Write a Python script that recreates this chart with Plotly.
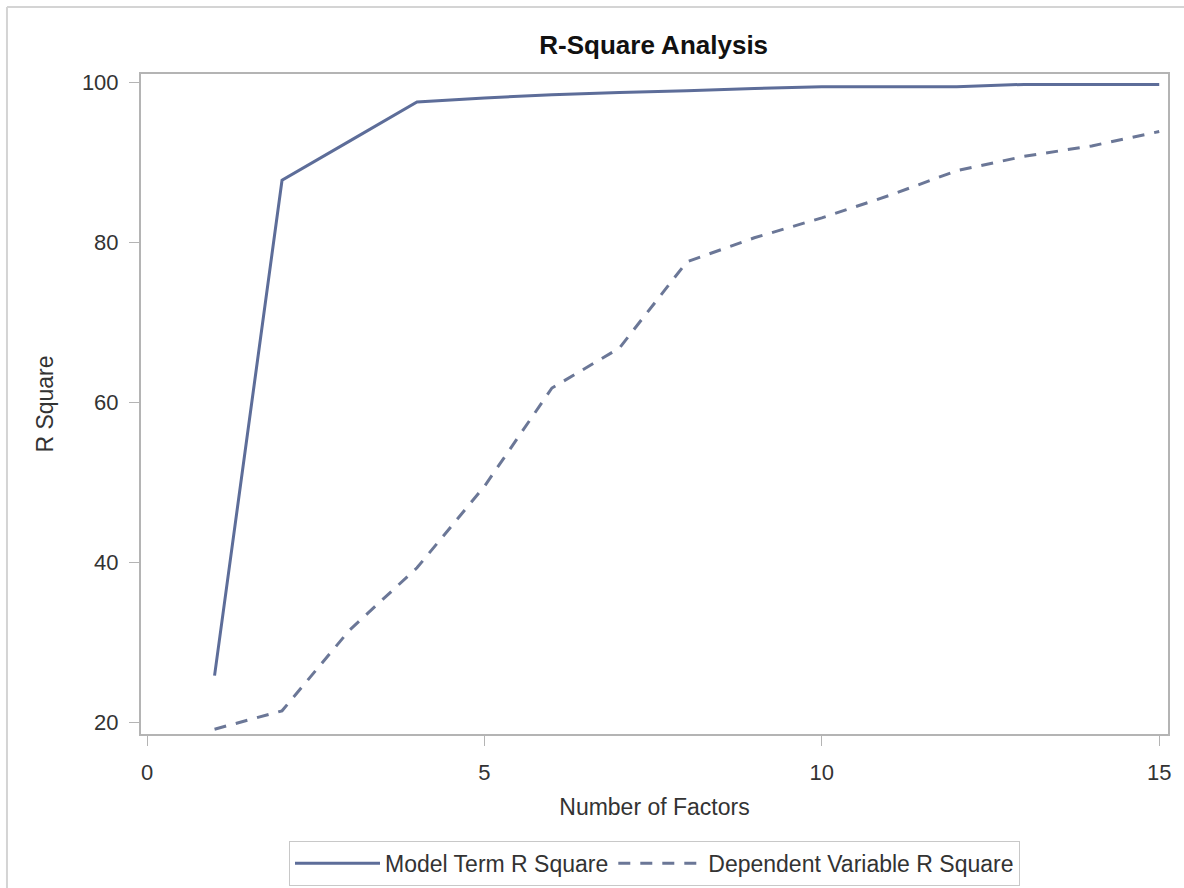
import plotly.graph_objects as go

# Number of factors extracted
factors = list(range(1, 16))

# Percent of variation explained in the model terms
model_term_r2 = [25.8, 87.8, 92.7, 97.6, 98.1, 98.5, 98.8, 99.0, 99.3, 99.5, 99.5, 99.5, 99.8, 99.8, 99.8]

# Percent of variation explained in the dependent variable
dependent_r2 = [19.1, 21.4, 31.5, 39.3, 49.5, 61.8, 66.8, 77.6, 80.6, 83.1, 85.9, 89.0, 90.8, 92.1, 93.9]

line_color = "#5d6d99"
axis_color = "#b4b4b4"
text_color = "#333333"
font_family = "Liberation Sans, Arial, sans-serif"

fig = go.Figure()
fig.add_trace(go.Scatter(
    x=factors, y=model_term_r2, mode="lines",
    name="Model Term R Square",
    line=dict(color=line_color, width=3),
))
fig.add_trace(go.Scatter(
    x=factors, y=dependent_r2, mode="lines",
    name="Dependent Variable R Square",
    line=dict(color="#6b7797", width=3, dash="12px,10px"),
))

fig.update_layout(
    width=1184, height=888,
    margin=dict(l=141, r=16, t=74, b=154, autoexpand=False),
    paper_bgcolor="white", plot_bgcolor="white",
    font=dict(family=font_family, size=21, color=text_color),
    title=dict(text="<b>R-Square Analysis</b>", x=0.5521, xanchor="center",
               y=0.949, yanchor="middle",
               font=dict(size=26, color="#111111", family=font_family)),
    showlegend=True,
    legend=dict(orientation="h", x=0.5, xanchor="center", y=-0.162, yanchor="top",
                bordercolor="#c8c8c8", borderwidth=1, bgcolor="white",
                font=dict(size=23, color=text_color), itemwidth=85,
                tracegroupgap=0),
    xaxis=dict(
        range=[-0.09, 15.13], tickvals=[0, 5, 10, 15], ticktext=["0", "5", "10", "15"],
        showgrid=False, zeroline=False, showline=True, linecolor=axis_color, linewidth=2,
        mirror=True, ticks="outside", ticklen=10, tickcolor=axis_color, tickwidth=1,
        tickfont=dict(size=22, color=text_color), ticklabelstandoff=8, automargin=False,
        title=dict(text="Number of Factors", font=dict(size=23, color=text_color), standoff=14),
    ),
    yaxis=dict(
        range=[18.5, 101.1], tickvals=[20, 40, 60, 80, 100],
        showgrid=False, zeroline=False, showline=True, linecolor=axis_color, linewidth=2,
        mirror=True, ticks="outside", ticklen=10, tickcolor=axis_color, tickwidth=1,
        tickfont=dict(size=22, color=text_color), ticklabelstandoff=6, automargin=False,
        title=dict(text="R Square", font=dict(size=23, color=text_color), standoff=22),
    ),
    shapes=[
        dict(type="line", xref="paper", yref="paper", x0=-0.1305, x1=1.02, y0=1.1015, y1=1.1015,
             line=dict(color="#d4d4d4", width=2)),
        dict(type="line", xref="paper", yref="paper", x0=-0.1305, x1=-0.1305, y0=-0.24, y1=1.1015,
             line=dict(color="#d4d4d4", width=2)),
    ],
)

fig.write_html("out.html")
